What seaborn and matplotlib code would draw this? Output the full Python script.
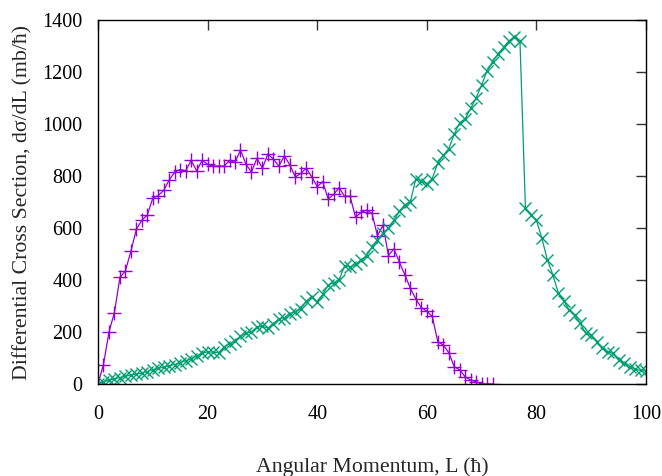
import numpy as np
import pandas as pd
import matplotlib
matplotlib.use("Agg")
import matplotlib.pyplot as plt
import seaborn as sns

# Purple series (+ markers), L = 0..72
L_purple = list(range(0, 73))
sigma_purple = [0, 75, 200, 275, 410, 435, 510, 595, 630, 650,
                715, 725, 745, 785, 815, 825, 820, 860, 820, 860,
                845, 838, 838, 838, 860, 852, 900, 845, 815, 868,
                830, 885, 865, 838, 877, 843, 796, 810, 830, 797,
                759, 778, 712, 729, 755, 722, 722, 641, 660, 669,
                656, 570, 611, 494, 520, 468, 420, 368, 327, 294,
                280, 260, 163, 150, 121, 67, 54, 28, 15, 9,
                0, 0, 0]

# Green series (x markers), L = 0..100
L_green = list(range(0, 101))
sigma_green = [0, 8, 15, 20, 25, 30, 35, 38, 42, 48,
               55, 60, 65, 70, 75, 82, 90, 98, 108, 118,
               124, 122, 120, 143, 155, 165, 185, 195, 200, 218,
               222, 215, 232, 250, 255, 270, 278, 290, 318, 335,
               315, 345, 380, 390, 400, 455, 450, 460, 478, 492,
               528, 555, 580, 600, 630, 665, 690, 700, 790, 780,
               770, 790, 850, 880, 905, 960, 1005, 1020, 1060, 1100,
               1150, 1205, 1240, 1270, 1295, 1320, 1335, 1320, 676, 650,
               630, 560, 478, 420, 350, 320, 285, 265, 233, 195,
               188, 163, 137, 124, 118, 92, 79, 67, 58, 52,
               50]

x_ticks = [0, 20, 40, 60, 80, 100]
y_ticks = [0, 200, 400, 600, 800, 1000, 1200, 1400]

sns.set_theme(style="white")
plt.rcParams['font.family'] = ['Liberation Serif', 'DejaVu Serif']

fig = plt.figure(figsize=(6.62, 4.76), dpi=100)
ax = fig.add_axes([98/662, (476-384)/476, (646-98)/662, (384-20)/476])

df_p = pd.DataFrame({"L": L_purple, "s": sigma_purple})
df_g = pd.DataFrame({"L": L_green, "s": sigma_green})

purple = "#9400d3"
green = "#009e73"
sns.lineplot(data=df_p, x="L", y="s", ax=ax, color=purple, marker="+",
             markersize=9.5, markeredgewidth=1.0, markeredgecolor=purple,
             linewidth=0.9, sort=False)
sns.lineplot(data=df_g, x="L", y="s", ax=ax, color=green, marker="x",
             markersize=8, markeredgewidth=1.0, markeredgecolor=green,
             linewidth=0.9, sort=False)

ax.set_xlim(0, 100)
ax.set_ylim(0, 1400)
ax.set_xticks(x_ticks)
ax.set_yticks(y_ticks)
ax.tick_params(direction="in", length=7, width=1, color="#333333",
               top=True, right=True, labelsize=14.5, labelcolor="black")
ax.tick_params(axis="x", pad=15)
ax.tick_params(axis="y", pad=11)
for s in ax.spines.values():
    s.set_color("black")
    s.set_linewidth(1.0)
    s.set_visible(True)

ax.set_xlabel("Angular Momentum, L (ħ)", fontsize=15.7, labelpad=24)
ax.set_ylabel("Differential Cross Section, dσ/dL (mb/ħ)", fontsize=15.7, labelpad=7)
ax.grid(False)

fig.savefig("out.png", dpi=100)
